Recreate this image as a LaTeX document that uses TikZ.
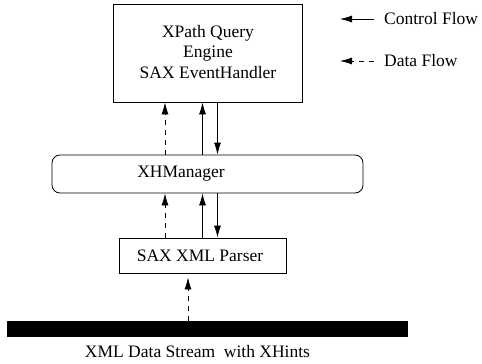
\documentclass[tikz,border=0pt]{standalone}
\usepackage{fontspec}
\setmainfont{Liberation Serif}
\usetikzlibrary{arrows.meta}
\begin{document}
\begin{tikzpicture}[x=1pt,y=-1pt,
  every node/.style={font=\fontsize{17.5}{20.5}\selectfont},
  boxstyle/.style={draw,line width=0.8pt,inner sep=0pt},
  ctrl/.style={draw,line width=0.8pt,-{Latex[length=12pt,width=7pt]}},
  dataflow/.style={draw,line width=0.8pt,dash pattern=on 5pt off 5pt,-{Latex[length=12pt,width=7pt]}}]
\useasboundingbox (0,0) rectangle (482,364);
% boxes
\node[boxstyle,minimum width=189pt,minimum height=98pt] (top) at (207.5,53) {};
\node[align=center] (toplabel) at (208,52) {XPath Query\\Engine\\SAX EventHandler};
\node[boxstyle,rounded corners=8pt,minimum width=311pt,minimum height=38pt] (xhm) at (207.5,174) {};
\node (xhmlabel) at (181,174) {XHManager};
\node[boxstyle,minimum width=167pt,minimum height=35pt] (parser) at (202.5,255.5) {};
\node (parserlabel) at (200,255.5) {SAX XML Parser};
\node[fill=black,inner sep=0pt,minimum width=401pt,minimum height=16pt] (bar) at (207.5,329) {};
\node (barlabel) at (197.5,352) {XML Data Stream\ \ with XHints};
% x positions
\coordinate (xd) at (165,0);
\coordinate (xu) at (202.5,0);
\coordinate (xdn) at (217.5,0);
\coordinate (xs) at (188,0);
% connectors top <-> xhm
\draw[dataflow] (xhm.north -| xd) -- (top.south -| xd);
\draw[ctrl] (xhm.north -| xu) -- (top.south -| xu);
\draw[ctrl] (top.south -| xdn) -- (xhm.north -| xdn);
% connectors xhm <-> parser
\draw[dataflow] (parser.north -| xd) -- (xhm.south -| xd);
\draw[ctrl] (parser.north -| xu) -- (xhm.south -| xu);
\draw[ctrl] (xhm.south -| xdn) -- (parser.north -| xdn);
% stream -> parser
\draw[dataflow] (bar.north -| xs) -- ([yshift=-4pt]parser.south -| xs);
% legend
\node[anchor=west,inner sep=0pt] (cf) at (384,19) {Control Flow};
\node[anchor=west,inner sep=0pt] (df) at (384,61) {Data Flow};
\coordinate (c1) at (340,19);
\coordinate (d1) at (340,61);
\draw[ctrl] ([xshift=-10pt]cf.west) -- (c1);
\draw[dataflow] ([xshift=-10pt]df.west) -- (d1);
\end{tikzpicture}
\end{document}
